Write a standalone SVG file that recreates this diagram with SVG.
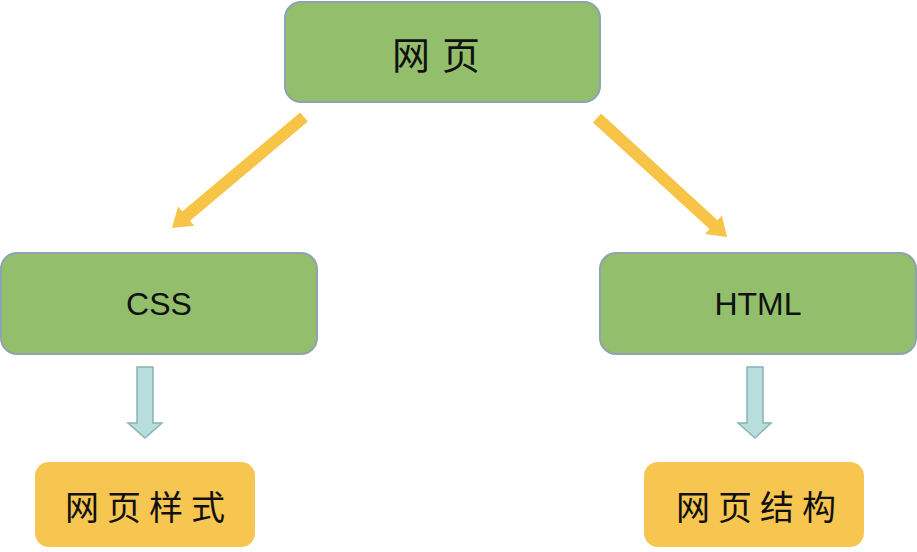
<svg xmlns="http://www.w3.org/2000/svg" width="917" height="552" viewBox="0 0 917 552">
<style>
.g{fill:#93BF6C;stroke:#8EA3AE;stroke-width:2}
.o{fill:#F7C651}
.t{font-family:"Noto Sans CJK SC","Liberation Sans",sans-serif;fill:#111;text-anchor:middle;dominant-baseline:central}
.y{fill:#F8C447}
.b{fill:#B7DEDD;stroke:#8CB3B2;stroke-width:1.5}
</style>
<rect width="917" height="552" fill="#fff"/>
<g id="connectors">
<polygon class="y" transform="translate(304,117) rotate(139.94)" points="0,-6 154,-6 154,-12.5 172.5,0 154,12.5 154,6 0,6"/>
<polygon class="y" transform="translate(597,118) rotate(42.47)" points="0,-6 158,-6 158,-12.5 176.2,0 158,12.5 158,6 0,6"/>
<polygon class="b" points="137,367 153,367 153,423 162,423 145,438 128,423 137,423"/>
<polygon class="b" points="747,367 763,367 763,423 771,423 755,438 738,423 747,423"/>
</g>
<g id="web">
<rect class="g" x="285" y="2" width="315" height="100" rx="16"/>
<text class="t" x="442" y="52" font-size="38" letter-spacing="12">网页</text>
</g>
<g id="css">
<rect class="g" x="1" y="253" width="316" height="101" rx="16"/>
<text class="t" x="159" y="304" font-size="32" style="font-family:'Liberation Sans',sans-serif">CSS</text>
</g>
<g id="html">
<rect class="g" x="600" y="253" width="316" height="101" rx="16"/>
<text class="t" x="758" y="304" font-size="32" style="font-family:'Liberation Sans',sans-serif">HTML</text>
</g>
<g id="style">
<rect class="o" x="35" y="462" width="220" height="85" rx="14"/>
<text class="t" x="149" y="505" font-size="34" letter-spacing="8">网页样式</text>
</g>
<g id="structure">
<rect class="o" x="644" y="462" width="220" height="85" rx="14"/>
<text class="t" x="760" y="505" font-size="34" letter-spacing="8">网页结构</text>
</g>
</svg>
